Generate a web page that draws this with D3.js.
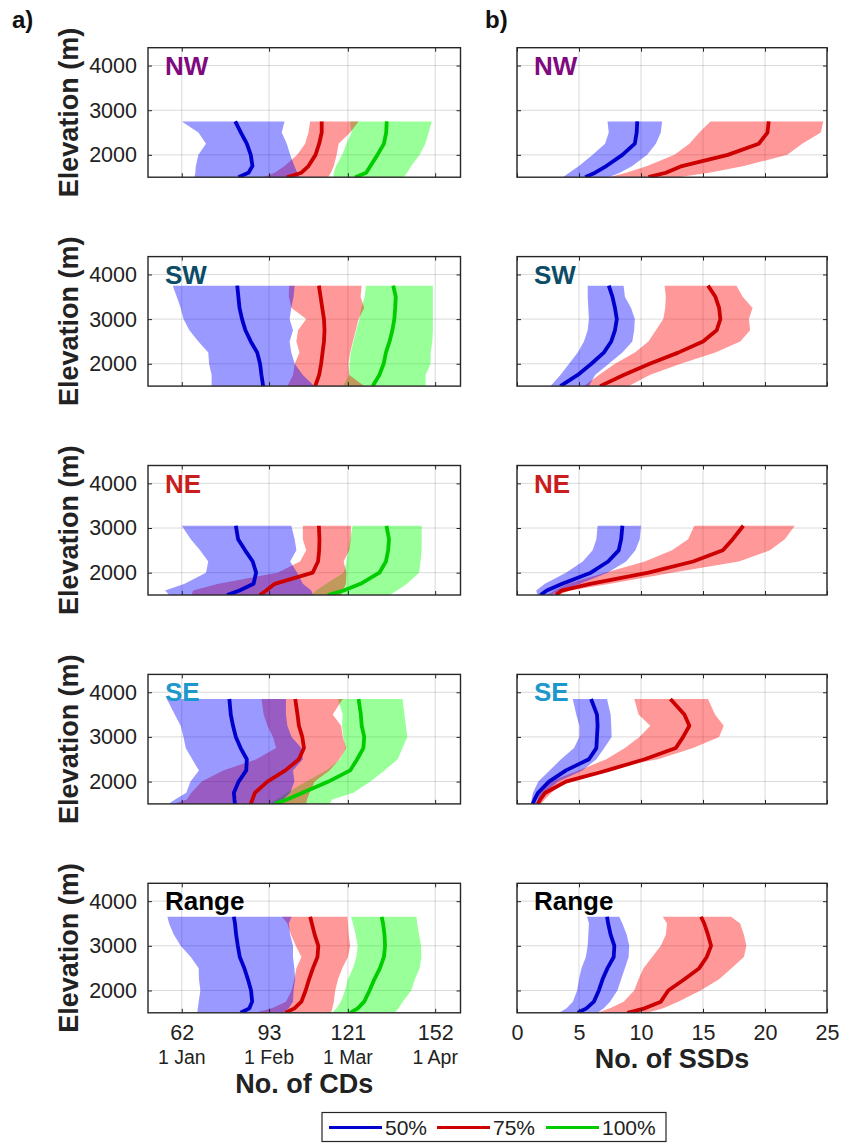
<!DOCTYPE html>
<html><head><meta charset="utf-8">
<script src="https://cdn.jsdelivr.net/npm/d3@7"></script>
<style>
body{margin:0;background:#fff}
svg{display:block}
text{font-family:"Liberation Sans",Arial,Helvetica,sans-serif}
</style>
</head><body>
<svg id="c" width="842" height="1143"></svg>
<script>
// ---------------- DATA ----------------
// Each series: [lo, median, hi] at the panel's elevations (m)
const elevNW = [1500,1600,1750,2000,2250,2500,2750];
const NW_CD_50  = [[66.5,66.8,67,67.9,70.6,67.9,62],[82.1,85.7,87.1,86.5,85.1,83,81],[104,103,102,100.5,99.3,97.5,98.5]];
const NW_CD_75  = [[91,95,98.5,103,105.8,107,107.6],[99.3,104.5,107,109.5,110.8,111.7,111.7],[114,115,116,117,117.7,121.8,124.8]];
const NW_CD_100 = [[115.9,116,116.8,119,120.5,122.3,121.8],[123.6,127.5,129,131.5,133.8,134.6,134.8],[140.8,142,143.5,146.5,148.5,149.7,150.8]];
const NW_SSD_50 = [[3.7,4.2,5.0,6.1,7.1,7.4,7.3],[5.5,6.3,7.2,8.5,9.5,9.65,9.7],[7.4,8.3,9.3,10.5,11.2,11.6,11.7]];
const NW_SSD_75 = [[7.4,8.8,10.5,12.7,13.9,14.7,15.6],[10.6,12.0,13.3,17.0,19.5,20.2,20.3],[13.0,15.5,18.3,21.8,23.0,24.5,24.7]];

const elevSW = [1500,1750,2000,2250,2500,2750,3000,3250,3500,3750];
const SW_CD_50  = [[72.6,72.6,71.7,71.4,67.9,64.7,62.6,61.6,60.2,58.8],[90.9,90.3,89.8,88.8,86.5,84.6,83.4,82.5,82.1,81.7],[109.1,105,102.1,100.9,100.3,101.5,100.3,100.9,101.7,102.1]];
const SW_CD_75  = [[99.5,101.5,102.1,103.8,102.7,103.3,106.2,101,100,100.1],[109.4,110.8,111.5,112,112.5,112.7,112.5,111.9,111.3,110.7],[126.8,121.5,121.2,121.8,122.8,123.8,124.8,126.8,125.5,125.9]];
const SW_CD_100 = [[119.2,121.5,121.6,122,123,124,125.1,125.7,127,127.4],[129.8,132.2,133.7,134.5,135.8,136.8,137.5,137.8,138,137.1],[148.6,148.6,150.4,150.4,151,151.2,151.2,151.2,151.2,151.2]];
const SW_SSD_50 = [[2.7,3.5,4.2,4.9,5.4,5.7,5.8,5.75,5.7,5.7],[3.5,4.9,6.0,7.0,7.6,7.9,8.05,7.9,7.7,7.4],[5.8,6.3,7.4,8.5,9.3,9.45,9.5,9.2,8.7,8.6]];
const SW_SSD_75 = [[5.4,6.6,7.9,9.5,10.6,11.2,11.8,11.95,12,11.9],[6.7,8.6,10.7,13.0,15.0,16.1,16.4,16.3,16.0,15.4],[9.0,10.7,13.2,16.0,18.0,18.8,18.7,19.0,18.2,17.7]];

const elevNE = [1500,1600,1750,2000,2250,2500,2750,3050];
const NE_CD_50  = [[57.5,56.1,63,70.6,71.4,68.5,65.2,62],[78.1,82.5,87.5,88.4,87.2,84.5,82,81.2],[108.6,108,105,103,100.5,102.7,102.1,100.9]];
const NE_CD_75  = [[65.5,66,75,96,104,106.2,105,105],[89.7,92,95,108.5,110.4,110.8,110.9,110.7],[118.6,119.2,120.3,120.5,119.5,121.5,122,122.1]];
const NE_CD_100 = [[108,109.7,113.3,119.5,120.5,121,121.8,122.7],[113.9,119.5,125.5,132.2,134.5,135.3,135.6,134.7],[135.7,138.5,142,146.3,146.8,147.2,147.2,147.2]];
const NE_SSD_50 = [[1.65,1.55,2.25,3.95,5.3,6.1,6.4,6.5],[1.9,2.4,3.65,5.95,7.35,8.2,8.4,8.5],[2.75,3.5,5.1,7.3,8.8,9.55,9.9,10.0]];
const NE_SSD_75 = [[2.5,3.0,4.1,7.1,10.3,12.5,13.8,14.3],[3.15,3.6,5.9,10.6,14.2,16.6,17.4,18.25],[3.3,4.3,7.5,12.5,17.9,20.4,21.6,22.4]];

const elevSE = [1500,1600,1750,2000,2250,2500,2750,3000,3250,3500,3850];
const SE_CD_50  = [[57.3,59.6,63.6,65.1,68.1,65.7,63.4,62.6,61.6,59.5,56.7],[80.9,80.7,80.5,82.2,84.9,85.1,82.9,81.2,80.2,79.4,78.9],[97,98,100.5,102,101.5,105,104.5,101,99.5,99,99]];
const SE_CD_75  = [[59.1,63.8,65.4,69.1,76.7,88.5,95.5,94.4,92.4,91.1,90.3],[86.5,87.1,88,92.4,98.8,103.6,105.4,104.8,103.6,103.1,102.3],[106.2,106.5,107.4,109.2,114.5,118,120.4,119.2,118.6,115.6,119.2]];
const SE_CD_100 = [[93.2,95.6,99.4,106.2,113.3,118.2,120.1,119.4,118.9,119.2,117.4],[95,99.4,104.9,114.1,121.8,124.3,126.5,126.8,125.9,125.6,124.8],[114.5,115.4,123,129,134,138.7,140.4,142.1,141.6,141.1,140.4]];
const SE_SSD_50 = [[1.13,1.18,1.29,1.72,2.63,3.55,4.6,5.03,5.03,4.78,4.49],[1.26,1.42,1.7,2.58,3.95,5.8,6.4,6.45,6.5,6.45,5.97],[1.8,1.9,2.2,3.33,5.27,6.4,7.04,7.63,7.6,7.55,7.26]];
const SE_SSD_75 = [[1.61,1.67,1.8,2.66,4.97,7.2,8.7,9.87,10.75,9.8,9.46],[1.67,1.88,2.28,3.95,7.26,10.3,12.8,13.4,13.9,13.5,12.37],[1.94,2.23,2.77,3.92,6.5,11.37,14.2,16.3,16.67,15.97,15.4]];

const elevRG = [1500,1600,1750,2000,2250,2500,2750,3000,3250,3500,3650];
const RG_CD_50  = [[67.5,67.7,68,68.6,68.1,68,65.2,61.6,59.2,57.5,56.9],[82.9,86,87,86.6,85.5,84.2,82.6,81.9,81.3,80.9,80.5],[98,100,101.5,101.7,102.3,102,101.5,101.5,100.5,100,101]];
const RG_CD_75  = [[88,94,99,101,102,102.7,104.5,102.5,100.8,99.5,97.6],[98.8,102,104.5,106,107.2,108.6,110.2,110.5,109.2,108.2,107.6],[115,115.5,116,116.5,117.5,119,121,121.8,121.3,121,120.8]];
const RG_CD_100 = [[115.3,117,118.5,120,121,122.8,124,124.5,123.8,122.8,122.1],[121.8,124.5,126.8,128.7,130.4,132.4,133.8,134.2,134,133.5,133],[137.7,139,140.5,143.5,144.8,146.5,147.1,147,146.3,145.6,145.4]];
const RG_SSD_50 = [[3.4,4.0,4.5,4.85,5.0,5.2,5.55,5.7,5.75,5.8,5.65],[4.9,5.6,6.2,6.6,6.9,7.3,7.8,7.85,7.55,7.35,7.26],[6.5,7.0,7.5,8.1,8.4,8.7,9.0,9.05,8.85,8.5,8.25]];
const RG_SSD_75 = [[6.5,7.5,8.6,9.45,9.8,10.2,10.9,11.6,12.0,12.1,11.75],[8.9,10.3,11.6,12.2,13.5,14.7,15.3,15.65,15.4,15.1,14.84],[10.5,11.8,13.0,14.8,16.3,17.3,18.3,18.5,18.3,18.0,17.26]];

const panelNames  = ['NW','SW','NE','SE','Range'];
const panelColors = ['#7f0a80','#0d4c67','#c81e1e','#1e98cc','#000000'];
const elevTicks = [2000,3000,4000];
const elevDomain = [1500,4400];
const cdDomain = [50,161];
const cdTicks = [62,93,121,152];
const cdDates = ['1 Jan','1 Feb','1 Mar','1 Apr'];
const ssdDomain = [0,25];
const ssdTicks = [0,5,10,15,20,25];
const seriesNames = ['50%','75%','100%'];
const fillCols = ['#0000ff','#ff0000','#00ff00'];
const lineCols = ['#0000cc','#cc0000','#00cc00'];

const elevs = [elevNW, elevSW, elevNE, elevSE, elevRG];
const cdSets = [[NW_CD_50,NW_CD_75,NW_CD_100],[SW_CD_50,SW_CD_75,SW_CD_100],[NE_CD_50,NE_CD_75,NE_CD_100],[SE_CD_50,SE_CD_75,SE_CD_100],[RG_CD_50,RG_CD_75,RG_CD_100]];
const ssdSets = [[NW_SSD_50,NW_SSD_75],[SW_SSD_50,SW_SSD_75],[NE_SSD_50,NE_SSD_75],[SE_SSD_50,SE_SSD_75],[RG_SSD_50,RG_SSD_75]];

// ---------------- LAYOUT ----------------
const svg = d3.select('#c');
const PH = 129.5;
const rowTop = i => 47.7 + i*208.9;
const cols = {L:[148,460.5], R:[517,827]};
const axisCol = '#262626';
const TICK = 4;

function drawPanel(i, side){
  const top = rowTop(i), bot = top + PH;
  const [x0,x1] = cols[side];
  const x = d3.scaleLinear().domain(side==='L'?cdDomain:ssdDomain).range([x0,x1]);
  const y = d3.scaleLinear().domain(elevDomain).range([bot,top]);
  const xt = side==='L'?cdTicks:ssdTicks;
  const g = svg.append('g');
  const cid = 'clip'+i+side;
  svg.append('clipPath').attr('id',cid).append('rect')
     .attr('x',x0).attr('y',top).attr('width',x1-x0).attr('height',PH);

  // grid
  g.append('g').selectAll('line').data(xt).join('line')
    .attr('x1',d=>x(d)).attr('x2',d=>x(d)).attr('y1',top).attr('y2',bot)
    .attr('stroke','#000').attr('stroke-opacity',0.15).attr('stroke-width',1);
  g.append('g').selectAll('line').data(elevTicks).join('line')
    .attr('y1',d=>y(d)).attr('y2',d=>y(d)).attr('x1',x0).attr('x2',x1)
    .attr('stroke','#000').attr('stroke-opacity',0.15).attr('stroke-width',1);

  // data
  const sets = side==='L'?cdSets[i]:ssdSets[i];
  const E = elevs[i];
  const dg = g.append('g').attr('clip-path',`url(#${cid})`);
  const rows = sets.map(s => E.map((e,j)=>({e, lo:s[0][j], med:s[1][j], hi:s[2][j]})));
  const area = d3.area().y(d=>y(d.e)).x0(d=>x(d.lo)).x1(d=>x(d.hi));
  const line = d3.line().x(d=>x(d.med)).y(d=>y(d.e));
  for(let k=rows.length-1;k>=0;k--){
    dg.append('path').datum(rows[k]).attr('d',area)
      .attr('fill',fillCols[k]).attr('fill-opacity',0.4).attr('stroke','none');
  }
  rows.forEach((r,k)=>{
    dg.append('path').datum(r).attr('d',line)
      .attr('fill','none').attr('stroke',lineCols[k]).attr('stroke-width',3.8)
      .attr('stroke-linejoin','round');
  });

  // axes (ticks inward on all four sides)
  const yl = d3.axisLeft(y).tickValues(elevTicks).tickSize(-TICK).tickSizeOuter(0).tickPadding(11)
      .tickFormat(side==='L'? d3.format('d') : '');
  g.append('g').attr('transform',`translate(${x0},0)`).call(yl);
  const yr = d3.axisRight(y).tickValues(elevTicks).tickSize(-TICK).tickSizeOuter(0).tickFormat('');
  g.append('g').attr('transform',`translate(${x1},0)`).call(yr);
  const xtop = d3.axisTop(x).tickValues(xt).tickSize(-TICK).tickSizeOuter(0).tickFormat('');
  g.append('g').attr('transform',`translate(0,${top})`).call(xtop);
  const last = i===4;
  const xb = d3.axisBottom(x).tickValues(xt).tickSize(-TICK).tickSizeOuter(0).tickPadding(12)
      .tickFormat(last? d3.format('d') : '');
  g.append('g').attr('transform',`translate(0,${bot})`).call(xb);
  g.selectAll('.domain').remove();
  g.selectAll('.tick line').attr('stroke',axisCol);
  g.selectAll('.tick text').attr('font-size',21.5).attr('fill','#222')
     .attr('font-family','"Liberation Sans",Arial,sans-serif');

  if(last && side==='L'){
    g.append('g').selectAll('text').data(cdTicks).join('text')
      .attr('x',d=>x(d)).attr('y',bot+51).attr('text-anchor','middle')
      .attr('font-size',19.5).attr('fill','#222').text((d,j)=>cdDates[j]);
    g.append('text').attr('x',(x0+x1)/2).attr('y',bot+80).attr('text-anchor','middle')
      .attr('font-size',27).attr('font-weight','bold').attr('fill','#222').text('No. of CDs');
  }
  if(last && side==='R'){
    g.append('text').attr('x',(x0+x1)/2).attr('y',bot+55).attr('text-anchor','middle')
      .attr('font-size',27).attr('font-weight','bold').attr('fill','#222').text('No. of SSDs');
  }

  // box
  g.append('rect').attr('x',x0).attr('y',top).attr('width',x1-x0).attr('height',PH)
    .attr('fill','none').attr('stroke',axisCol).attr('stroke-width',1.4);

  // panel label
  g.append('text').attr('x',x0+17).attr('y',top+27)
    .attr('font-size',26).attr('font-weight','bold').attr('fill',panelColors[i]).text(panelNames[i]);

  // y label
  if(side==='L'){
    g.append('text').attr('transform',`translate(68.5,${top+PH/2}) rotate(-90)`)
      .attr('text-anchor','middle').attr('dy','0.35em')
      .attr('font-size',27).attr('font-weight','bold').attr('fill','#222').text('Elevation (m)');
  }
}

for(let i=0;i<5;i++){ drawPanel(i,'L'); drawPanel(i,'R'); }

svg.append('text').attr('x',12).attr('y',28).attr('font-size',24).attr('font-weight','bold').attr('fill','#111').text('a)');
svg.append('text').attr('x',485).attr('y',28).attr('font-size',24).attr('font-weight','bold').attr('fill','#111').text('b)');

// legend
const lg = svg.append('g');
lg.append('rect').attr('x',322).attr('y',1112.5).attr('width',344).attr('height',29)
  .attr('fill','#fff').attr('stroke',axisCol).attr('stroke-width',1.2);
const legX = [329,437,546];
seriesNames.forEach((n,k)=>{
  lg.append('line').attr('x1',legX[k]).attr('x2',legX[k]+53).attr('y1',1127.5).attr('y2',1127.5)
    .attr('stroke',lineCols[k]).attr('stroke-width',3);
  lg.append('text').attr('x',legX[k]+56).attr('y',1127.5).attr('dy','0.35em')
    .attr('font-size',21).attr('fill','#222').text(n);
});
</script>
</body></html>
